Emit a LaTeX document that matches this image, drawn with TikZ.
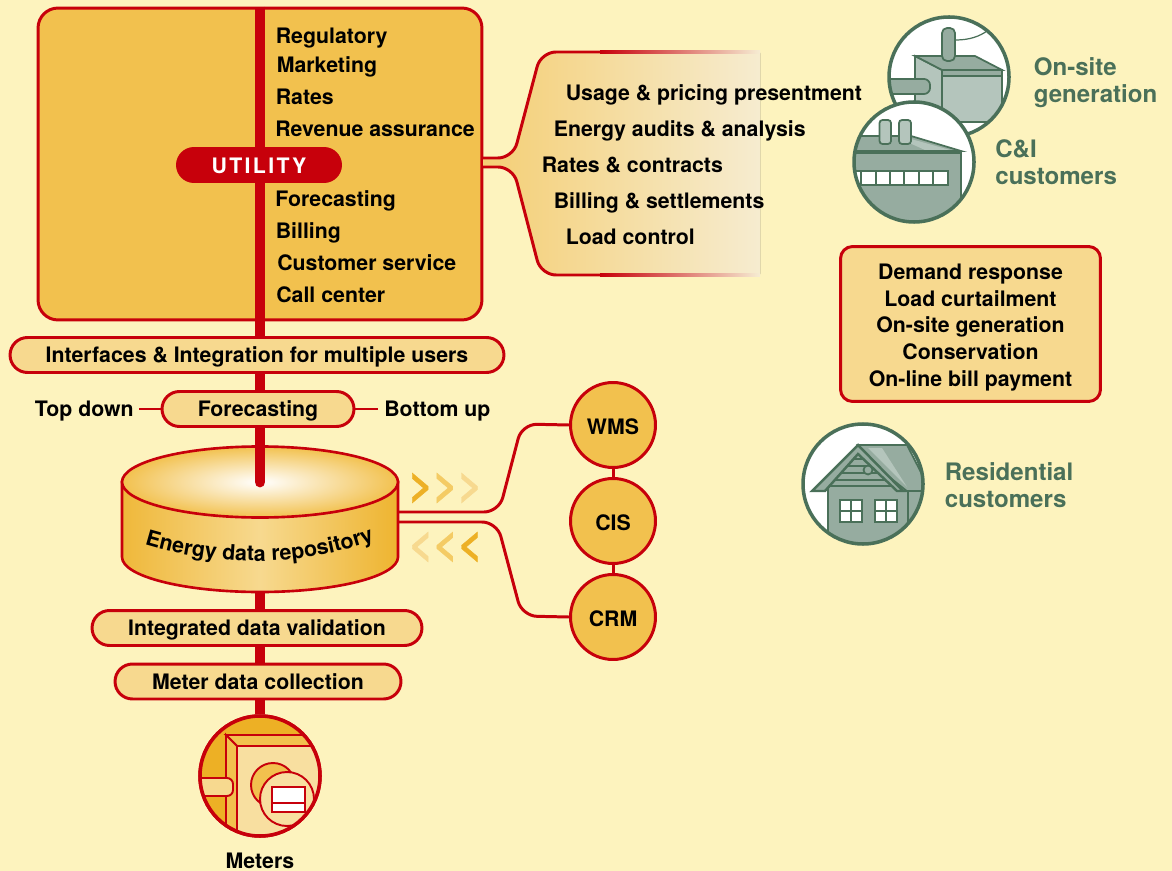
\documentclass[tikz,border=0pt]{standalone}
\usepackage{fontspec}
\setmainfont{TeX Gyre Heros}
\usetikzlibrary{calc, decorations.text}
\definecolor{pagebg}{HTML}{FDF3BE}
\definecolor{utilred}{HTML}{C7000B}
\definecolor{boxorange}{HTML}{F2C14E}
\definecolor{pillfill}{HTML}{F7D98F}
\definecolor{deeporange}{HTML}{EDB025}
\definecolor{fadefill}{HTML}{F6EDD3}
\definecolor{custgreen}{HTML}{4A7059}
\definecolor{custfill}{HTML}{96ACA0}
\definecolor{custlight}{HTML}{B4C5BC}
\tikzset{
  lbl/.style={font=\bfseries\fontsize{12.12}{14}\selectfont, inner sep=0pt, anchor=base west, text=black},
  greenlbl/.style={font=\bfseries\fontsize{13.7}{15.2}\selectfont, inner sep=0pt, anchor=north west, text=custgreen, align=left},
  pill/.style={draw=utilred, line width=1.7pt, fill=pillfill, rounded corners=0.35cm, minimum height=0.7cm, inner sep=0pt, text height=10.2pt, text depth=1.5pt, font=\bfseries\fontsize{12.12}{14}\selectfont},
  spine/.style={utilred, line width=6.2pt},
  link/.style={utilred, line width=1.7pt, rounded corners=0.3cm},
  bubble/.style={circle, draw=utilred, line width=1.7pt, fill=boxorange, minimum size=1.7cm, inner sep=0pt, text height=11pt, text depth=0pt, font=\bfseries\fontsize{12.12}{14}\selectfont},
  chevron/.style={inner sep=0pt, font=\bfseries\fontsize{24}{26}\selectfont\addfontfeature{FakeBold=1}},
  ink/.style={draw=custgreen, line width=1pt},
  ring/.style={draw=custgreen, line width=2pt},
  meterink/.style={draw=utilred, line width=1.1pt}
}
\begin{document}
\begin{tikzpicture}[x=0.02cm, y=-0.02cm]
  \useasboundingbox[fill=pagebg] (0,0) rectangle (1172,871);

  % utility block
  \node[draw=utilred, line width=1.7pt, fill=boxorange, rounded corners=0.4cm, minimum width=8.88cm, minimum height=6.24cm, inner sep=0pt] (utilbox) at (260,164) {};
  \node[fill=utilred, rounded corners=0.36cm, minimum width=3.32cm, minimum height=0.72cm, inner sep=0pt, text=white, text height=10pt, text depth=0pt, font=\bfseries\fontsize{12.12}{14}\selectfont] (utility) at (259,165) {\addfontfeature{LetterSpace=11}UTILITY};
  \draw[spine] (utilbox.north) -- (utilbox.north |- utility.north);
  \draw[spine] (utilbox.north |- utility.south) -- (utilbox.south);
  \node[lbl] (regulatory) at (275.5,44) {Regulatory};
  \node[lbl] (marketing) at (276.5,73) {Marketing};
  \node[lbl] (rates) at (275.5,105) {Rates};
  \node[lbl] (revenue) at (275,137) {Revenue assurance};
  \node[lbl] (forecast) at (275,207) {Forecasting};
  \node[lbl] (billing) at (275.5,239) {Billing};
  \node[lbl] (service) at (277,271) {Customer service};
  \node[lbl] (callcenter) at (276,302.5) {Call center};

  % fan out to the right
  \coordinate (fanup) at (482,158);
  \coordinate (fandown) at (482,167);
  \begin{scope}
    \clip (483,40) rectangle (760,290);
    \fill[left color=pillfill!70!deeporange, right color=fadefill, rounded corners=0.3cm] (465,158) -- (513,158) -- (541,52) -- (770,52) -- (770,275) -- (541,275) -- (513,167) -- (465,167) -- cycle;
  \end{scope}
  \draw[link] (fanup) -- (513,158) -- (541,52) -- (600,52);
  \draw[link] (fandown) -- (513,167) -- (541,275) -- (600,275);
  \fill[left color=utilred, right color=fadefill] (600,50.5) rectangle (760,53.5);
  \fill[left color=utilred, right color=fadefill] (600,273.5) rectangle (760,276.5);
  \node[lbl] (usage) at (565.5,101) {Usage \& pricing presentment};
  \node[lbl] (audits) at (553.5,137) {Energy audits \& analysis};
  \node[lbl] (contracts) at (541.5,173) {Rates \& contracts};
  \node[lbl] (settlements) at (553.5,209) {Billing \& settlements};
  \node[lbl] (loadctl) at (565.5,245) {Load control};

  % pills down the spine
  \node[pill, minimum width=9.88cm] (interfaces) at (257,355) {Interfaces \& Integration for multiple users};
  \node[pill, minimum width=3.84cm] (forecastpill) at (258,409) {Forecasting};
  \node[lbl, anchor=base east] (topdown) at (134,416) {Top down};
  \node[lbl] (bottomup) at (384,416) {Bottom up};
  \draw[utilred, line width=1.2pt] ($(topdown.east |- forecastpill.west)+(5,0)$) -- (forecastpill.west);
  \draw[utilred, line width=1.2pt] (forecastpill.east) -- ($(bottomup.west |- forecastpill.east)+(-6,0)$);
  \node[pill, minimum width=6.6cm] (validation) at (257,628) {Integrated data validation};
  \node[pill, minimum width=5.72cm] (collection) at (258,681.5) {Meter data collection};
  \coordinate (repotop) at (260,482);
  \coordinate (repobot) at (260,592);
  \draw[spine] (utilbox.south) -- (utilbox.south |- interfaces.north);
  \draw[spine] (utilbox.south |- interfaces.south) -- (utilbox.south |- forecastpill.north);
  \draw[spine] (utilbox.south |- forecastpill.south) -- (repotop);

  % repository
  \draw[utilred, line width=1.5pt, left color=deeporange!80!pillfill, right color=deeporange!90!pillfill, middle color=pillfill] (122,482) -- (122,557) arc[start angle=180, end angle=360, x radius=138, y radius=-35] -- (398,482) -- cycle;
  \draw[utilred, line width=1.5pt, shading=radial, inner color=white, outer color=boxorange] (repotop) ellipse[x radius=138, y radius=35.5];
  \draw[spine, line cap=round] ($(repotop)+(0,-35)$) -- (repotop);
  \draw[spine] (repobot) -- (repobot |- validation.north);
  \draw[spine] (repobot |- validation.south) -- (repobot |- collection.north);
  \path[decorate, decoration={text along path, text align=center, text={|\bfseries\fontsize{12.2}{14}\selectfont|Energy data repository}}] (146,545) .. controls (220,567) and (300,567) .. (373,541);

  % systems
  \node[bubble] (wms) at (613,425) {WMS};
  \node[bubble] (cis) at (613,521) {CIS};
  \node[bubble] (crm) at (613,617) {CRM};
  \draw[utilred, line width=1.7pt] (wms) -- (cis);
  \draw[utilred, line width=1.7pt] (cis) -- (crm);
  \coordinate (repoout) at (398,512);
  \coordinate (repoin) at (398,522);
  \draw[link] (repoout) -- (499,512) -- (522,424) -- (wms.west);
  \draw[link] (repoin) -- (497,522) -- (522,616) -- (crm.west);
  \node[chevron] (outflow) at (445.5,488) {\textcolor{deeporange}{>}\textcolor{boxorange!80!pagebg}{>}\textcolor{pillfill}{>}};
  \node[chevron] (inflow) at (445.5,547) {\textcolor{pillfill}{<}\textcolor{boxorange!80!pagebg}{<}\textcolor{deeporange}{<}};

  % meter
  \node[circle, draw=utilred, line width=2pt, minimum size=2.4cm, inner sep=0pt] (meter) at (260,776) {};
  \draw[spine] (collection.south -| meter.north) -- (meter.north);
  \begin{scope}
    \clip (260,776) circle[radius=60];
    \fill[deeporange] (195,710) rectangle (325,840);
    \filldraw[meterink, fill=boxorange] (226,735) -- (305,735) -- (312,746) -- (237,746) -- cycle;
    \filldraw[meterink, fill=boxorange] (226,735) -- (237,746) -- (237,840) -- (226,830) -- cycle;
    \filldraw[meterink, fill=pillfill!85!white] (237,746) rectangle (330,840);
    \filldraw[meterink, fill=pillfill, rounded corners=0.12cm] (190,778) rectangle (233,796);
    \filldraw[meterink, fill=boxorange] (273,785) circle[radius=22];
    \filldraw[meterink, fill=pillfill!85!white] (287,799) circle[radius=27];
    \filldraw[meterink, fill=white] (272,787) rectangle (305,812);
    \draw[meterink] (272,803) -- (305,803);
  \end{scope}
  \draw[utilred, line width=2pt] (260,776) circle[radius=60];
  \node[lbl, anchor=base] (meters) at (260,868) {Meters};

  % on-site generation
  \fill[white] (949,77) circle[radius=61];
  \begin{scope}
    \clip (949,77) circle[radius=61];
    \draw[custgreen, line width=0.7pt] (956,40) .. controls (970,40) and (980,36) .. (987,31);
    \filldraw[ink, fill=custlight] (915,56) -- (942,70) -- (942,125) -- (915,115) -- cycle;
    \filldraw[ink, fill=custlight] (942,76) rectangle (1002,122);
    \filldraw[ink, fill=custfill] (915,56) -- (975,56) -- (1002,70) -- (942,70) -- cycle;
    \filldraw[ink, fill=custfill] (942,70) rectangle (1002,76);
    \filldraw[ink, fill=custfill, rounded corners=0.12cm] (880,79) rectangle (930,94);
    \filldraw[ink, fill=custfill, rounded corners=0.1cm] (942,28) rectangle (955,61);
  \end{scope}
  \draw[ring] (949,77) circle[radius=60];
  \node[greenlbl] (onsite) at (1033.5,57.5) {On-site\\generation};

  % commercial
  \fill[white] (914,162) circle[radius=61];
  \begin{scope}
    \clip (914,162) circle[radius=61];
    \filldraw[ink, fill=custfill] (850,136) -- (911,136) -- (961,151) -- (850,151) -- cycle;
    \fill[custlight] (905,141) -- (911,139) -- (950,150) -- (925,150) -- cycle;
    \filldraw[ink, fill=custfill] (850,153) -- (961,153) -- (961,230) -- (850,230) -- cycle;
    \filldraw[ink, fill=custlight, rounded corners=0.06cm] (879.5,120) rectangle (891,144);
    \filldraw[ink, fill=custlight, rounded corners=0.06cm] (899,120) rectangle (911,144);
    \filldraw[ink, fill=white] (850,171) rectangle (948,185);
    \draw[ink] (861,171) -- (861,185) (876,171) -- (876,185) (890,171) -- (890,185) (904,171) -- (904,185) (919,171) -- (919,185) (933,171) -- (933,185);
  \end{scope}
  \draw[ring] (914,162) circle[radius=60];
  \node[greenlbl] (cni) at (995,139.5) {C\&I\\customers};

  % offers
  \node[draw=utilred, line width=1.7pt, fill=pillfill, rounded corners=0.24cm, minimum width=5.2cm, minimum height=3.1cm, inner sep=0pt] (offers) at (970.5,324) {};
  \node[inner sep=0pt, align=center, font=\bfseries\fontsize{12.12}{15.15}\selectfont] (offertext) at (970.5,327.5) {Demand response\\Load curtailment\\On-site generation\\Conservation\\On-line bill payment};

  % residential
  \fill[white] (863,484) circle[radius=61];
  \begin{scope}
    \clip (863,484) circle[radius=61];
    \filldraw[ink, fill=custfill] (858,445) -- (907,445) -- (930,490) -- (930,550) -- (903,550) -- (903,492) -- cycle;
    \fill[custlight] (868,448) -- (882,448) -- (907,487) -- cycle;
    \filldraw[ink, fill=custfill] (828,487) -- (858,452) -- (908,492) -- (908,550) -- (828,550) -- cycle;
    \draw[ink] (852,459) -- (866,459) (844,466) -- (874,466) (836,473) -- (882,473) (830,480) -- (890,480) (828,486) -- (898,486);
    \filldraw[ink, fill=custfill] (868,470) circle[radius=4.5];
    \filldraw[ink, line width=1.4pt, fill=custfill] (812,491) -- (858,445) -- (903,491) -- (897,491) -- (858,454) -- (825,491) -- cycle;
    \draw[ink] (903,491) -- (930,491);
    \filldraw[ink, line width=1.4pt, fill=white] (840,500) rectangle (862,522);
    \draw[ink, line width=1.4pt] (851,500) -- (851,522) (840,511) -- (862,511);
    \filldraw[ink, line width=1.4pt, fill=white] (875,500) rectangle (897,522);
    \draw[ink, line width=1.4pt] (886,500) -- (886,522) (875,511) -- (897,511);
  \end{scope}
  \draw[ring] (863,484) circle[radius=60];
  \node[greenlbl] (residential) at (944.5,462.5) {Residential\\customers};
\end{tikzpicture}
\end{document}
